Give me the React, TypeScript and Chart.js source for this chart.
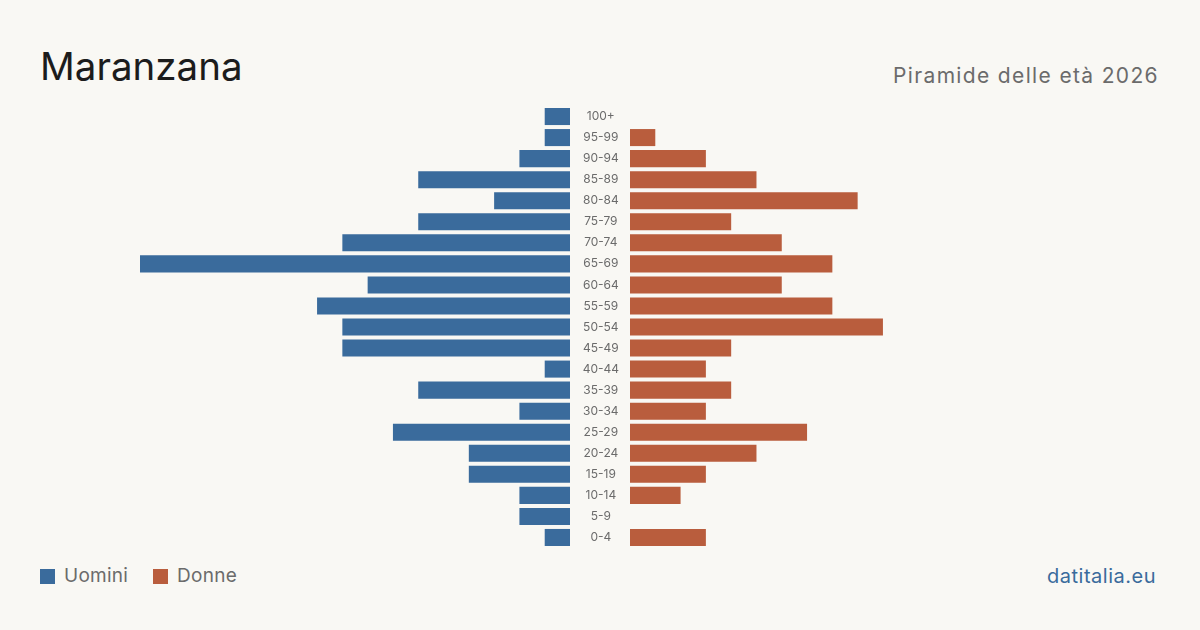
import React, { useEffect, useRef } from "react";
import { Chart, registerables } from "chart.js";

Chart.register(...registerables);

const ageGroups = ["100+", "95-99", "90-94", "85-89", "80-84", "75-79", "70-74", "65-69", "60-64", "55-59", "50-54", "45-49", "40-44", "35-39", "30-34", "25-29", "20-24", "15-19", "10-14", "5-9", "0-4"];
const men = [1, 1, 2, 6, 3, 6, 9, 17, 8, 10, 9, 9, 1, 6, 2, 7, 4, 4, 2, 2, 1];
const women = [0, 1, 3, 5, 9, 4, 6, 8, 6, 8, 10, 4, 3, 4, 3, 7, 5, 3, 2, 0, 3];
const axisMax = 17;

const BLUE = "#3a6b9c";
const ORANGE = "#b95d3d";
const BG = "#f9f8f4";
const FONT = "Inter, 'Noto Sans', sans-serif";

export default function App() {
  const leftRef = useRef<HTMLCanvasElement>(null);
  const rightRef = useRef<HTMLCanvasElement>(null);

  useEffect(() => {
    document.body.style.margin = "0";
    const common: any = {
      responsive: true,
      maintainAspectRatio: false,
      animation: false,
      layout: { padding: 0 },
      plugins: { legend: { display: false }, tooltip: { enabled: false } },
    };
    const left = new Chart(leftRef.current!, {
      type: "bar",
      data: {
        labels: ageGroups,
        datasets: [{ label: "Uomini", data: men, backgroundColor: BLUE, barPercentage: 0.81, categoryPercentage: 1 }],
      },
      options: {
        ...common,
        indexAxis: "y",
        scales: {
          x: { display: false, reverse: true, min: 0, max: axisMax },
          y: { display: false },
        },
      },
    });
    const right = new Chart(rightRef.current!, {
      type: "bar",
      data: {
        labels: ageGroups,
        datasets: [{ label: "Donne", data: women, backgroundColor: ORANGE, barPercentage: 0.81, categoryPercentage: 1 }],
      },
      options: {
        ...common,
        indexAxis: "y",
        scales: {
          x: { display: false, min: 0, max: axisMax },
          y: {
            display: true,
            grid: { display: false, drawTicks: false },
            border: { display: false },
            ticks: {
              crossAlign: "center",
              padding: 11,
              color: "#6b6b6b",
              font: { family: FONT, size: 12 },
            },
            afterFit: (scale: any) => {
              scale.width = 60;
              scale.paddingTop = 0;
              scale.paddingBottom = 0;
            },
          },
        },
      },
    });
    return () => {
      left.destroy();
      right.destroy();
    };
  }, []);

  return (
    <div style={{ position: "fixed", left: 0, top: 0, width: 1200, height: 630, background: BG, fontFamily: FONT, overflow: "hidden" }}>
      <div style={{ position: "absolute", left: 40, top: 40, fontSize: 38.5, color: "#1c1c1c", lineHeight: "52px" }}>Maranzana</div>
      <div style={{ position: "absolute", right: 41, top: 62, fontSize: 21, letterSpacing: "1.35px", color: "#6b6b6b", lineHeight: "28px" }}>Piramide delle età 2026</div>
      <div style={{ position: "absolute", left: 140, top: 106, width: 430, height: 442 }}>
        <canvas ref={leftRef} />
      </div>
      <div style={{ position: "absolute", left: 570, top: 106, width: 490, height: 442 }}>
        <canvas ref={rightRef} />
      </div>
      <div style={{ position: "absolute", left: 40, top: 564, display: "flex", alignItems: "center", fontSize: 19, letterSpacing: "0.25px", color: "#6b6b6b", lineHeight: "24px" }}>
        <span style={{ width: 15, height: 15, background: BLUE, display: "inline-block", marginRight: 9 }} />
        <span>Uomini</span>
        <span style={{ width: 15, height: 15, background: ORANGE, display: "inline-block", marginLeft: 25, marginRight: 9 }} />
        <span>Donne</span>
      </div>
      <div style={{ position: "absolute", right: 44, top: 563, fontSize: 20, letterSpacing: "0.5px", color: "#3a6b9c", lineHeight: "26px" }}>datitalia.eu</div>
    </div>
  );
}
